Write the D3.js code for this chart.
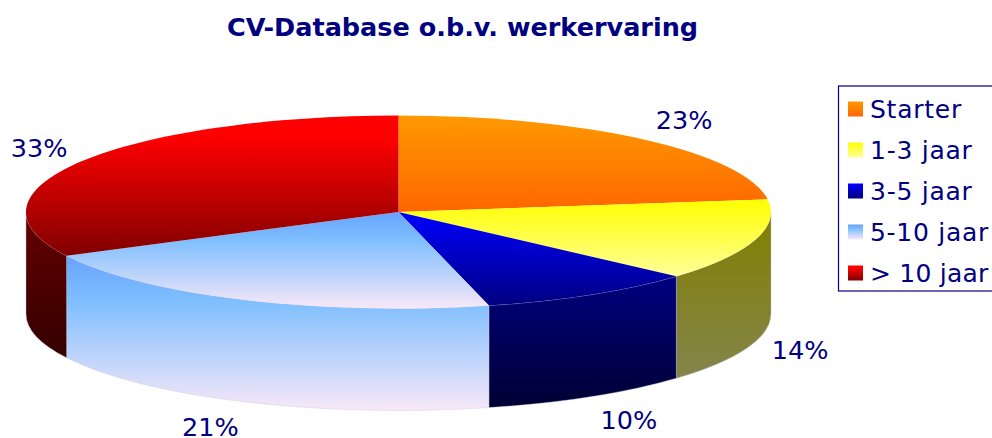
<!DOCTYPE html>
<html>
<head>
<meta charset="utf-8">
<script src="https://cdn.jsdelivr.net/npm/d3@7"></script>
<style>
    html, body { margin: 0; padding: 0; background: #fff; overflow: hidden; }
    text { font-family: "DejaVu Sans", sans-serif; fill: #000080; }
</style>
</head>
<body>
<div id="chart"></div>
<script>
// Series. Labels are what the chart prints (rounded).
var categories = ['Starter', '1-3 jaar', '3-5 jaar', '5-10 jaar', '> 10 jaar'];
var shares = [22.9, 13.7, 9.5, 21.4, 32.5];
var labels = ['23%', '14%', '10%', '21%', '33%'];

var topStops = [
    [[0, '#ff9900'], [1, '#ff6600']],
    [[0, '#ffff00'], [1, '#ffff99']],
    [[0, '#0000ff'], [1, '#000080']],
    [[0, '#66a3ff'], [0.3, '#80bfff'], [1, '#f8e8f8']],
    [[0, '#ff0000'], [0.15, '#ff0000'], [1, '#800000']]
];
var sideStops = [
    [[0, '#804c00'], [1, '#803300']],
    [[0, '#808000'], [1, '#84844c']],
    [[0, '#000080'], [1, '#000033']],
    [[0, '#66a3ff'], [0.3, '#80bfff'], [1, '#f8e8f8']],
    [[0, '#660000'], [1, '#330000']]
];

var o = {
    width: 992,
    height: 438,
    cx: 398.5,
    cy: 212,
    rx: 372.5,
    ry: 96.5,
    depth: 102
};

var svg = d3.select('#chart')
    .append('svg')
    .attr('width', o.width)
    .attr('height', o.height);

var defs = svg.append('defs');

function addGradient(id, stops) {
    var grad = defs.append('linearGradient')
        .attr('id', id)
        .attr('x1', 0).attr('y1', 0)
        .attr('x2', 0).attr('y2', 1);
    grad.selectAll('stop')
        .data(stops)
        .enter().append('stop')
        .attr('offset', function(d) { return d[0]; })
        .attr('stop-color', function(d) { return d[1]; });
}

categories.forEach(function(c, i) {
    addGradient('top' + i, topStops[i]);
    addGradient('side' + i, sideStops[i]);
});

var pie = d3.pie().sort(null);
var slices = pie(shares);

// Wall of a slice: only the part of its rim that faces the viewer
function sidePath(d) {
    var a0 = Math.max(d.startAngle, Math.PI / 2);
    var a1 = Math.min(d.endAngle, Math.PI * 1.5);
    if (a1 <= a0) return null;
    var x0 = o.cx + o.rx * Math.sin(a0), y0 = o.cy - o.ry * Math.cos(a0);
    var x1 = o.cx + o.rx * Math.sin(a1), y1 = o.cy - o.ry * Math.cos(a1);
    return 'M' + x0 + ',' + y0 +
        'A' + o.rx + ',' + o.ry + ' 0 0 1 ' + x1 + ',' + y1 +
        'L' + x1 + ',' + (y1 + o.depth) +
        'A' + o.rx + ',' + o.ry + ' 0 0 0 ' + x0 + ',' + (y0 + o.depth) + 'Z';
}

svg.append('g')
    .selectAll('path')
    .data(slices)
    .enter().append('path')
    .attr('d', sidePath)
    .attr('fill', function(d) { return 'url(#side' + d.index + ')'; })
    .attr('stroke', '#c8c8d8')
    .attr('stroke-width', 0.4);

var arc = d3.arc().innerRadius(0).outerRadius(o.rx);

svg.append('g')
    .attr('transform', 'translate(' + o.cx + ',' + o.cy + ') scale(1,' + (o.ry / o.rx) + ')')
    .selectAll('path')
    .data(slices)
    .enter().append('path')
    .attr('d', arc)
    .attr('fill', function(d) { return 'url(#top' + d.index + ')'; });

// Value labels sit just outside the rim, pushed down by the wall on the front half
svg.append('g')
    .selectAll('text')
    .data(slices)
    .enter().append('text')
    .attr('x', function(d) {
        var mid = (d.startAngle + d.endAngle) / 2;
        return o.cx + (o.rx + 18) * Math.sin(mid) + (mid < Math.PI ? 0 : 2);
    })
    .attr('y', function(d) {
        var mid = (d.startAngle + d.endAngle) / 2;
        var c = Math.cos(mid);
        return o.cy - (o.ry + 28) * c + (c < 0 ? o.depth - 0.5 : 1);
    })
    .attr('dy', '0.36em')
    .attr('text-anchor', function(d) {
        return (d.startAngle + d.endAngle) / 2 < Math.PI ? 'start' : 'end';
    })
    .style('font-size', '25.5px')
    .text(function(d) { return labels[d.index]; });

svg.append('text')
    .attr('x', 462.5)
    .attr('y', 36)
    .attr('text-anchor', 'middle')
    .style('font-size', '25.5px')
    .style('font-weight', 'bold')
    .text('CV-Database o.b.v. werkervaring');

// Legend runs off the right edge of the picture, as in the original
var legend = svg.append('g');

legend.append('rect')
    .attr('x', 838.5)
    .attr('y', 86)
    .attr('width', 170)
    .attr('height', 205)
    .attr('fill', '#fff')
    .attr('stroke', '#000080')
    .attr('stroke-width', 1.2);

var legendY = d3.scalePoint()
    .domain(categories)
    .range([109, 273]);

var rows = legend.selectAll('g')
    .data(categories)
    .enter().append('g')
    .attr('transform', function(d) { return 'translate(0,' + legendY(d) + ')'; });

rows.append('rect')
    .attr('x', 848)
    .attr('y', -7.5)
    .attr('width', 15)
    .attr('height', 15)
    .attr('fill', function(d, i) { return 'url(#top' + i + ')'; });

rows.append('text')
    .attr('x', 870)
    .attr('dy', '0.36em')
    .style('font-size', '25px')
    .style('letter-spacing', '0.75px')
    .text(function(d) { return d; })
    .each(function() {
        // DejaVu's ">" is wider than the original font's, keep that row inside the picture
        if (this.getComputedTextLength() > 119) d3.select(this).attr('textLength', 119);
    });
</script>
</body>
</html>
